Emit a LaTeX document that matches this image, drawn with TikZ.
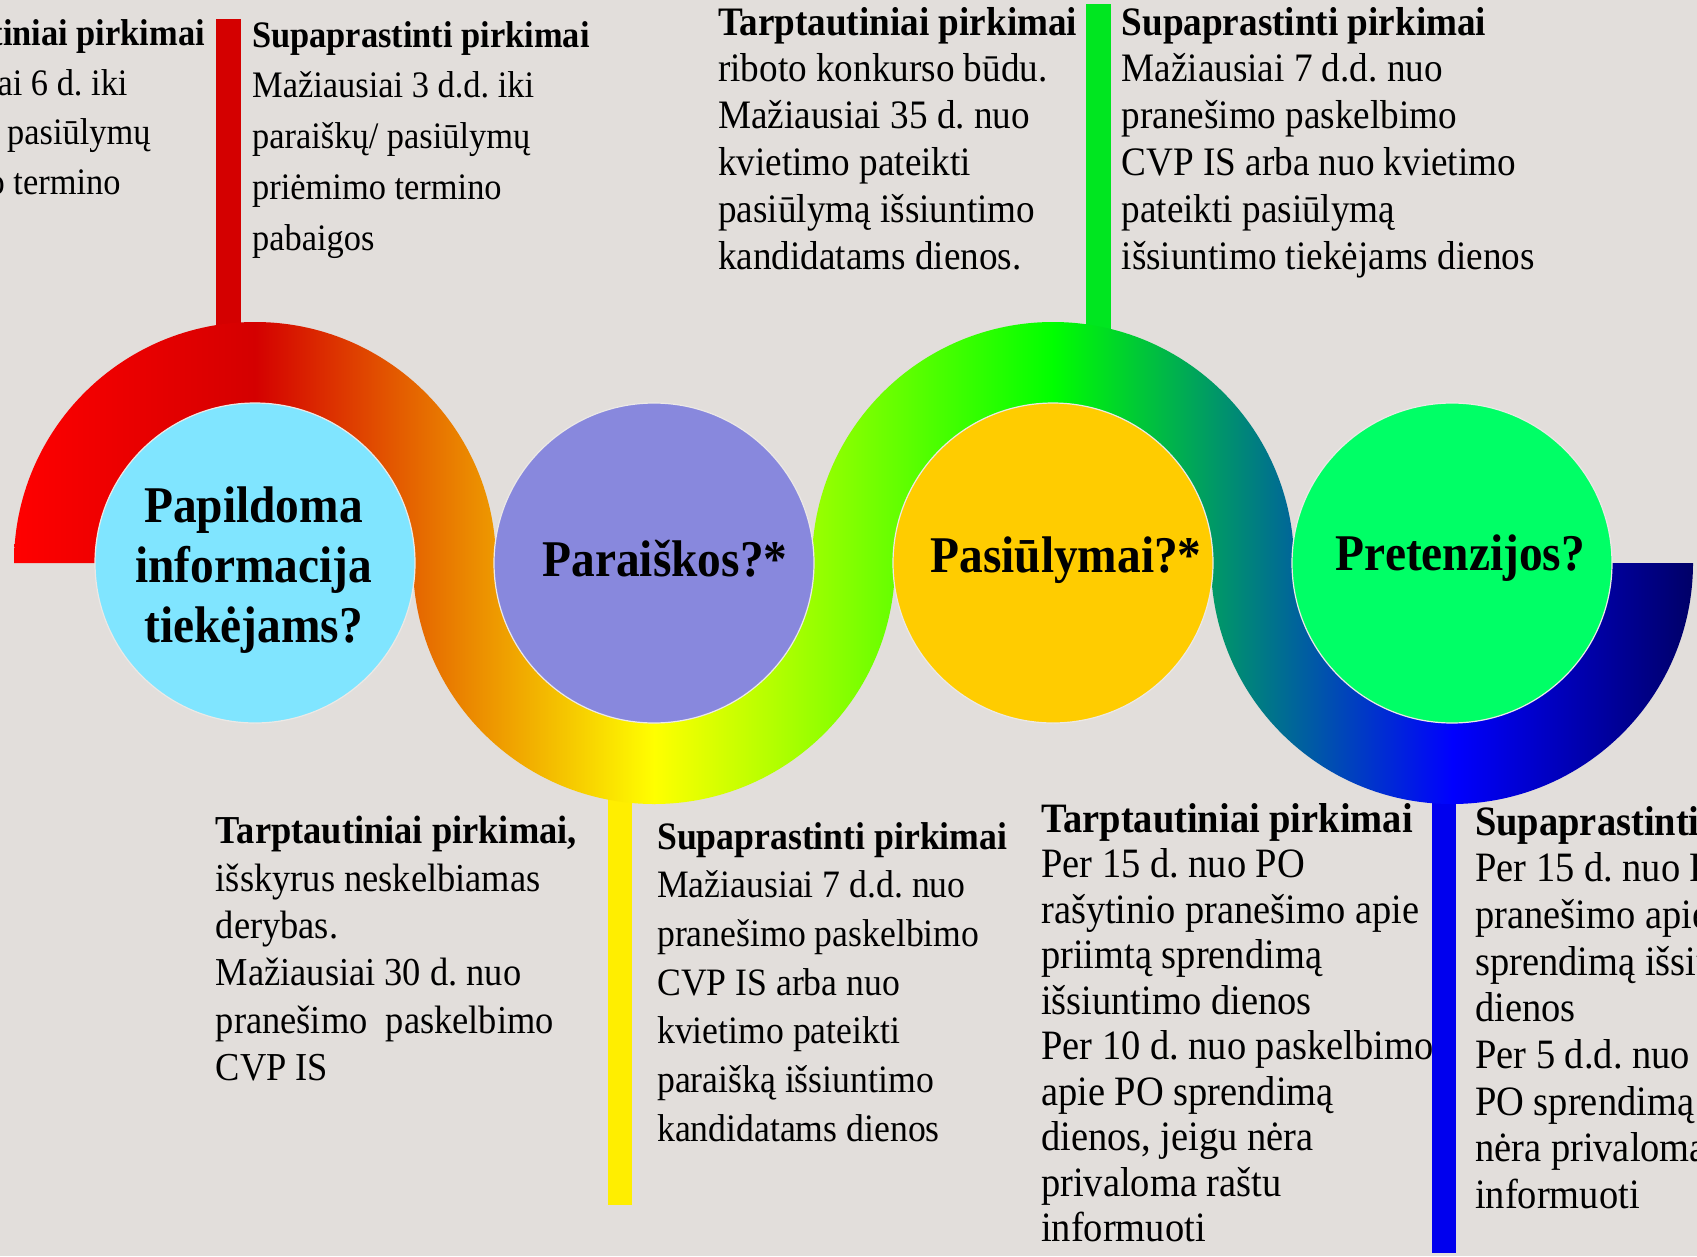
\documentclass[tikz,border=0pt]{standalone}
\usepackage{fontspec}
\setmainfont{Liberation Serif}[FakeStretch=0.92]
\frenchspacing
\definecolor{bgc}{HTML}{E2DEDB}
\definecolor{rimc}{HTML}{ECE9E6}
\definecolor{cA}{HTML}{80E5FF}
\definecolor{cB}{HTML}{8888DD}
\definecolor{cC}{HTML}{FFCC00}
\definecolor{cD}{HTML}{00FF66}
\definecolor{g0}{HTML}{FF0000}
\definecolor{g1}{HTML}{D40000}
\definecolor{g2}{HTML}{FFFF00}
\definecolor{g3}{HTML}{00FF00}
\definecolor{g4}{HTML}{0000FF}
\definecolor{g5}{HTML}{000066}
\definecolor{sRed}{HTML}{D40000}
\definecolor{sGreen}{HTML}{00E620}
\definecolor{sYellow}{HTML}{FFEE00}
\definecolor{sBlue}{HTML}{0000EE}
\newcommand\txtlines[1]{\vtop{\lineskiplimit=-\maxdimen\relax #1}}
\tikzset{
  txt/.style 2 args={font=\fontsize{#1}{#2}\selectfont, inner sep=0pt, anchor=base west},
  txtr/.style 2 args={font=\fontsize{#1}{#2}\selectfont, inner sep=0pt, anchor=base east},
  lbl/.style={font=\bfseries\fontsize{51.5}{60}\selectfont, inner sep=0pt, anchor=base},
  bubble/.style={circle, draw=rimc, line width=1.2pt, minimum size=320pt, inner sep=0pt},
}
\begin{document}
\frenchspacing
\begin{tikzpicture}[x=1pt,y=-1pt]
\useasboundingbox (0,0) rectangle (1697,1256);
\fill[bgc] (0,0) rectangle (1697,1256);
\begin{scope}
\clip (0,0) rectangle (1697,1256);
% stems
\fill[sRed] (216,19) rectangle (241,400);
\fill[sGreen] (1086,4) rectangle (1111,400);
\fill[sYellow] (608,760) rectangle (632,1205);
\fill[sBlue] (1432,760) rectangle (1456,1253);
% rainbow band
\begin{scope}
\clip (14,563) arc[start angle=180,end angle=360,radius=241]
  arc[start angle=180,end angle=0,radius=158]
  arc[start angle=180,end angle=360,radius=241]
  arc[start angle=180,end angle=0,radius=158]
  -- (1693,563)
  arc[start angle=0,end angle=180,radius=241]
  arc[start angle=360,end angle=180,radius=158]
  arc[start angle=0,end angle=180,radius=241]
  arc[start angle=360,end angle=180,radius=158]
  -- cycle;
\shade[left color=g0,right color=g1] (12,300) rectangle (255.5,830);
\shade[left color=g1,right color=g2] (255,300) rectangle (654.5,830);
\shade[left color=g2,right color=g3] (654,300) rectangle (1053.5,830);
\shade[left color=g3,right color=g4] (1053,300) rectangle (1452.5,830);
\shade[left color=g4,right color=g5] (1452,300) rectangle (1695,830);
\end{scope}
% circles
\node[bubble, fill=cA] (cA) at (255,563) {};
\node[bubble, fill=cB] (cB) at (654,563) {};
\node[bubble, fill=cC] (cC) at (1053,563) {};
\node[bubble, fill=cD] (cD) at (1452,563) {};
% circle labels
\node[lbl] (lA1) at (253.5,522.7) {Papildoma};
\node[lbl] (lA2) at (253.5,582) {informacija};
\node[lbl] (lA3) at (253.5,642.7) {tiekėjams?};
\node[lbl] (lB) at (665,576) {Paraiškos?*};
\node[lbl] (lC) at (1066,572.7) {Pasiūlymai?*};
\node[lbl] (lD) at (1460.5,570) {Pretenzijos?};
% block A (cut at left edge)
\node[txtr={37.4}{50}] (a1) at (205,45) {\bfseries tiniai pirkimai};
\node[txtr={37.4}{50}] (a2) at (127.7,95) {ai 6 d. iki};
\node[txtr={37.4}{50}] (a3) at (150.7,144) {pasiūlymų};
\node[txtr={37.4}{50}] (a4) at (120.7,194) {o termino};
% block B
\node[txt={37.4}{50.8}] (b) at (252,47) {\txtlines{%
  \hbox{\bfseries Supaprastinti pirkimai}
  \hbox{Mažiausiai 3 d.d. iki}
  \hbox{paraiškų/ pasiūlymų}
  \hbox{priėmimo termino}
  \hbox{pabaigos}}};
% block C
\node[txt={40.4}{46.9}] (c) at (718,35) {\txtlines{%
  \hbox{\bfseries Tarptautiniai pirkimai}
  \hbox{riboto konkurso būdu.}
  \hbox{Mažiausiai 35 d. nuo}
  \hbox{kvietimo pateikti}
  \hbox{pasiūlymą išsiuntimo}
  \hbox{kandidatams dienos.}}};
% block D
\node[txt={40.4}{46.9}] (d) at (1121.5,35) {\txtlines{%
  \hbox{\bfseries Supaprastinti pirkimai}
  \hbox{Mažiausiai 7 d.d. nuo}
  \hbox{pranešimo paskelbimo}
  \hbox{CVP IS arba nuo kvietimo}
  \hbox{pateikti pasiūlymą}
  \hbox{išsiuntimo tiekėjams dienos}}};
% block E
\node[txt={39.6}{47.4}] (e) at (215.6,843.7) {\txtlines{%
  \hbox{\bfseries Tarptautiniai pirkimai,}
  \hbox{išskyrus neskelbiamas}
  \hbox{derybas.}
  \hbox{Mažiausiai 30 d. nuo}
  \hbox{pranešimo\ \ paskelbimo}
  \hbox{CVP IS}}};
% block F
\node[txt={38.8}{48.7}] (f) at (657,849) {\txtlines{%
  \hbox{\bfseries Supaprastinti pirkimai}
  \hbox{Mažiausiai 7 d.d. nuo}
  \hbox{pranešimo paskelbimo}
  \hbox{CVP IS arba nuo}
  \hbox{kvietimo pateikti}
  \hbox{paraišką išsiuntimo}
  \hbox{kandidatams dienos}}};
% block G
\node[txt={41.8}{45.5}] (g) at (1041,832) {\txtlines{%
  \hbox{\bfseries Tarptautiniai pirkimai}
  \hbox{Per 15 d. nuo PO}
  \hbox{rašytinio pranešimo apie}
  \hbox{priimtą sprendimą}
  \hbox{išsiuntimo dienos}
  \hbox{Per 10 d. nuo paskelbimo}
  \hbox{apie PO sprendimą}
  \hbox{dienos, jeigu nėra}
  \hbox{privaloma raštu}
  \hbox{informuoti}}};
% block H (cut at right edge)
\node[txt={41.8}{46.7}] (h) at (1475,835) {\txtlines{%
  \hbox{\bfseries Supaprastinti}
  \hbox{Per 15 d. nuo P}
  \hbox{pranešimo apie}
  \hbox{sprendimą išsiu}
  \hbox{dienos}
  \hbox{Per 5 d.d. nuo p}
  \hbox{PO sprendimą d}
  \hbox{nėra privaloma}
  \hbox{informuoti}}};
\end{scope}
\end{tikzpicture}
\end{document}
